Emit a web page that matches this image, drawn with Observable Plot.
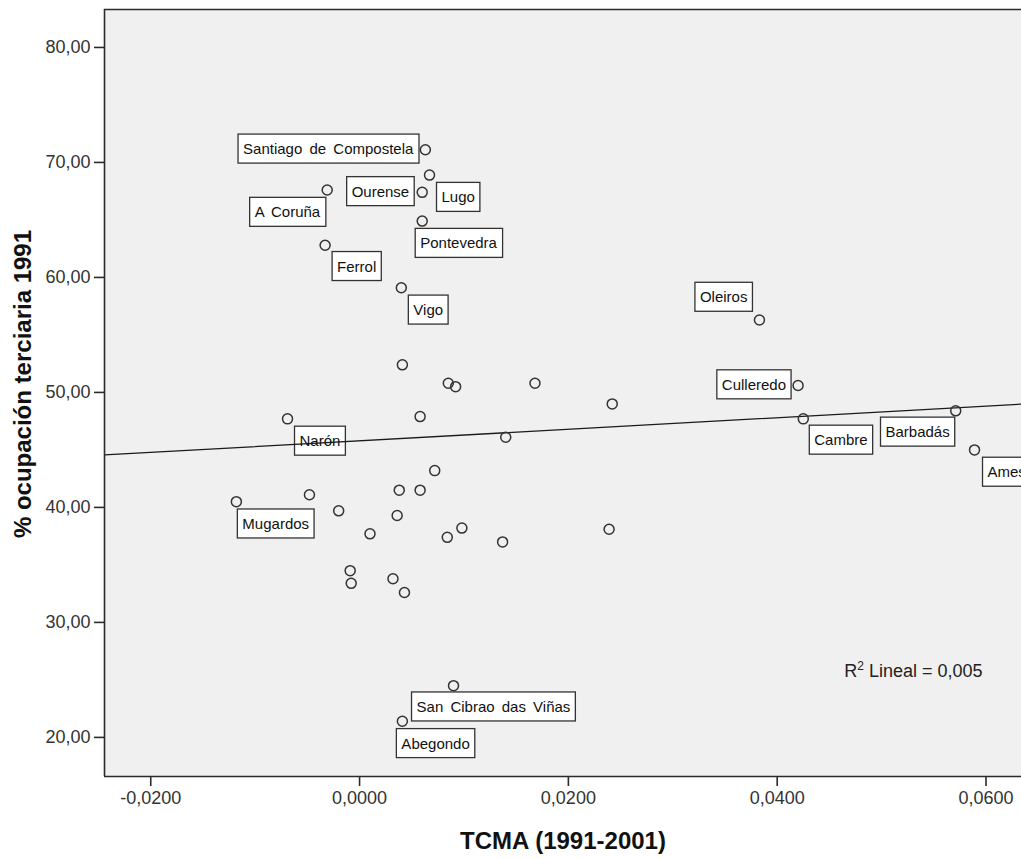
<!DOCTYPE html>
<html>
<head>
<meta charset="utf-8">
<script src="https://cdn.jsdelivr.net/npm/d3@7"></script>
<script src="https://cdn.jsdelivr.net/npm/@observablehq/plot@0.6"></script>
<style>
  html, body { margin: 0; padding: 0; background: #ffffff; overflow: hidden; }
  #chart svg { display: block; }
</style>
</head>
<body>
<div id="chart"></div>
<script>
// ---- Data ----
const municipios = [
  "Santiago de Compostela", "Lugo", "Ourense", "A Coruña", "Pontevedra", "Ferrol", "Vigo",
  "Oleiros", "Culleredo", "Cambre", "Barbadás", "Ames", "Narón", "Mugardos",
  "San Cibrao das Viñas", "Abegondo",
  null, null, null, null, null, null, null, null, null, null, null,
  null, null, null, null, null, null, null, null, null, null, null
];
const tcma = [
  0.0063, 0.0067, 0.0060, -0.0031, 0.0060, -0.0033, 0.0040,
  0.0383, 0.0420, 0.0425, 0.0571, 0.0589, -0.0069, -0.0118,
  0.0090, 0.0041,
  0.0041, 0.0085, 0.0092, 0.0168, 0.0242, 0.0058, 0.0140, 0.0072, 0.0038, 0.0058, -0.0048,
  -0.0020, 0.0036, 0.0010, 0.0084, 0.0098, 0.0137, 0.0239, -0.0009, -0.0008, 0.0032, 0.0043
];
const ocupacion = [
  71.1, 68.9, 67.4, 67.6, 64.9, 62.8, 59.1,
  56.3, 50.6, 47.7, 48.4, 45.0, 47.7, 40.5,
  24.5, 21.4,
  52.4, 50.8, 50.5, 50.8, 49.0, 47.9, 46.1, 43.2, 41.5, 41.5, 41.1,
  39.7, 39.3, 37.7, 37.4, 38.2, 37.0, 38.1, 34.5, 33.4, 33.8, 32.6
];
const xTicks = [-0.02, 0, 0.02, 0.04, 0.06];
const yTicks = [20, 30, 40, 50, 60, 70, 80];
const fitIntercept = 45.79;   // linear fit
const fitSlope = 50.3;
const r2Text = "0,005";
const xTitle = "TCMA (1991-2001)";
const yTitle = "% ocupación terciaria 1991";

// ---- Layout ----
const W = 1021, H = 859;
const xDomain = [-0.02443, 0.0634];
const yDomain = [16.6, 83.3];
const PAD = 5, BOXH = 29;
// label placement: [text anchor, box edge offset x (px), box top offset y (px)]
const labelLayout = {
  "Santiago de Compostela": ["end", -7, -15],
  "Ourense": ["end", -8, -15],
  "Lugo": ["start", 7, 8],
  "A Coruña": ["end", -2, 8],
  "Pontevedra": ["start", -7, 8],
  "Ferrol": ["start", 7, 7],
  "Vigo": ["start", 7, 8],
  "Oleiros": ["end", -7, -37],
  "Culleredo": ["end", -7, -15],
  "Cambre": ["start", 6, 7],
  "Barbadás": ["end", -1, 7],
  "Ames": ["start", 8, 8],
  "Narón": ["start", 7, 8],
  "Mugardos": ["start", 1, 8],
  "San Cibrao das Viñas": ["start", -42, 7],
  "Abegondo": ["start", -6, 8]
};

const data = tcma.map((x, i) => ({x, y: ocupacion[i], name: municipios[i]}));
const fitLine = xDomain.map(x => ({x, y: fitIntercept + fitSlope * x}));

const fmtY = d => d.toFixed(2).replace(".", ",");
const fmtX = d => d.toFixed(4).replace(".", ",");

const labelMarks = data.filter(d => d.name).map(d => {
  const [anchor, ex, top] = labelLayout[d.name];
  return Plot.text([d], {
    x: "x", y: "y", text: "name",
    textAnchor: anchor,
    dx: anchor === "start" ? ex + PAD : ex - PAD,
    dy: top + BOXH / 2,
    lineAnchor: "middle",
    fontSize: 15,
    fill: "#111"
  });
});

const lineStroke = "#2b2b2b";
const r2Label = "R2 Lineal = " + r2Text;

const chart = Plot.plot({
  width: W, height: H,
  marginTop: 9, marginRight: 0, marginBottom: 83, marginLeft: 104,
  style: {fontFamily: "'Liberation Sans', Arial, sans-serif", fontSize: "18px", color: "#333", background: "#ffffff"},
  x: {domain: xDomain, label: null},
  y: {domain: yDomain, label: null},
  marks: [
    Plot.frame({fill: "#f0f0f0", stroke: "none"}),
    ...labelMarks,
    Plot.line(fitLine, {x: "x", y: "y", stroke: "#1a1a1a", strokeWidth: 1.3}),
    Plot.dot(data, {x: "x", y: "y", r: 5, stroke: "#333", strokeWidth: 1.5, fill: "none"}),
    Plot.ruleX([xDomain[0]], {stroke: lineStroke, strokeWidth: 1.6}),
    Plot.ruleY([yDomain[0], yDomain[1]], {stroke: lineStroke, strokeWidth: 1.6}),
    Plot.axisY({ticks: yTicks, tickFormat: fmtY, tickSize: 10, tickPadding: 4, strokeWidth: 1.6, stroke: lineStroke, fill: "#333", fontSize: 18, label: null}),
    Plot.axisX({ticks: xTicks, tickFormat: fmtX, tickSize: 10, tickPadding: 5, strokeWidth: 1.6, stroke: lineStroke, fill: "#333", fontSize: 18, label: null}),
    Plot.text([xTitle], {frameAnchor: "bottom", text: d => d, dy: 65, textAnchor: "middle", lineAnchor: "middle", fontSize: 24, fontWeight: "bold", fill: "#111"}),
    Plot.text([yTitle], {frameAnchor: "left", text: d => d, dx: -81, dy: -9, rotate: -90, textAnchor: "middle", lineAnchor: "middle", fontSize: 24, fontWeight: "bold", fill: "#111"}),
    Plot.text([r2Label], {frameAnchor: "bottom-right", text: d => d, dx: -39, dy: -105, textAnchor: "end", lineAnchor: "middle", fontSize: 18, fill: "#222"})
  ]
});

document.getElementById("chart").appendChild(chart);

const ns = "http://www.w3.org/2000/svg";
const labelSet = new Set(municipios.filter(Boolean));

chart.querySelectorAll("text").forEach(t => {
  const content = t.textContent;
  if (labelSet.has(content)) {
    // white box behind the point label
    t.style.wordSpacing = "3px";
    const bb = t.getBBox();
    const r = document.createElementNS(ns, "rect");
    r.setAttribute("x", bb.x - PAD);
    r.setAttribute("y", bb.y + bb.height / 2 - BOXH / 2);
    r.setAttribute("width", bb.width + 2 * PAD);
    r.setAttribute("height", BOXH);
    r.setAttribute("fill", "#ffffff");
    r.setAttribute("stroke", "#333");
    r.setAttribute("stroke-width", 1.3);
    const tr = t.getAttribute("transform");
    if (tr) r.setAttribute("transform", tr);
    t.parentNode.insertBefore(r, t);
  } else if (content === r2Label) {
    // superscript 2 in the R² note
    const rest = content.slice(2);
    t.textContent = "";
    const a = document.createElementNS(ns, "tspan"); a.textContent = "R";
    const b = document.createElementNS(ns, "tspan"); b.textContent = "2";
    b.setAttribute("font-size", "12"); b.setAttribute("dy", "-7");
    const c = document.createElementNS(ns, "tspan"); c.textContent = rest;
    c.setAttribute("dy", "7");
    t.append(a, b, c);
  }
});
</script>
</body>
</html>
